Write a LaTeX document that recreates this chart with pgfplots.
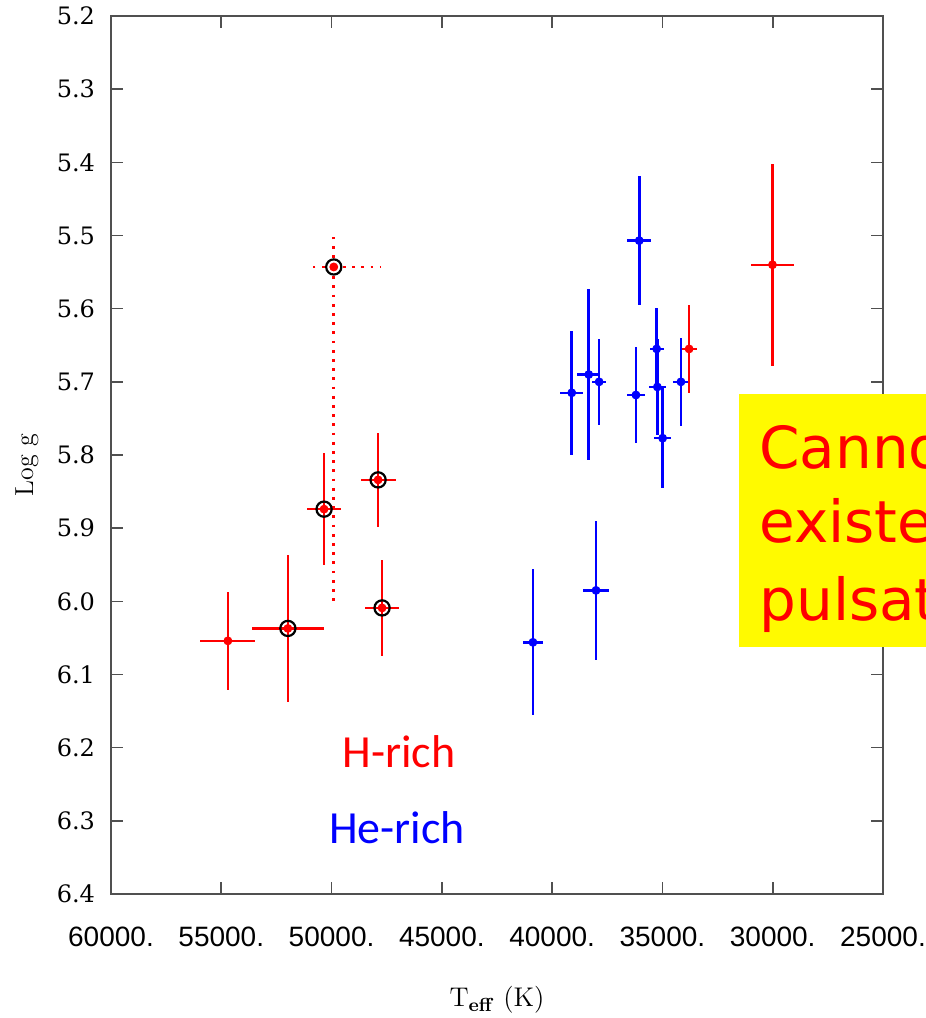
\documentclass[border=0pt]{standalone}
\usepackage{fontspec}
\usepackage{pgfplots}
\pgfplotsset{compat=1.18}
\newfontfamily\tickx{Liberation Sans}
\newfontfamily\ticky{DejaVu Serif}
\newfontfamily\calib{Carlito}
\newfontfamily\comic{DejaVu Sans}
\definecolor{axgray}{RGB}{80,80,80}
\definecolor{boxyellow}{RGB}{255,250,0}

\begin{document}
\begin{tikzpicture}
\useasboundingbox (-55.5pt,-62pt) rectangle (407.5pt,447pt);
\begin{axis}[
  at={(0pt,0pt)}, anchor=south west,
  scale only axis, width=386pt, height=439pt,
  x dir=reverse, y dir=reverse,
  xmin=25000, xmax=60000, ymin=5.2, ymax=6.4,
  scaled x ticks=false, scaled y ticks=false,
  xtick={25000,30000,35000,40000,45000,50000,55000,60000},
  xticklabels={25000.,30000.,35000.,40000.,45000.,50000.,55000.,60000.},
  ytick={5.2,5.3,5.4,5.5,5.6,5.7,5.8,5.9,6.0,6.1,6.2,6.3,6.4},
  yticklabels={5.2,5.3,5.4,5.5,5.6,5.7,5.8,5.9,6.0,6.1,6.2,6.3,6.4},
  tick align=inside, major tick length=6pt,
  axis line style={draw=axgray, line width=0.8pt},
  tick style={draw=axgray, line width=0.8pt},
  xticklabel style={font=\tickx\fontsize{14}{16}\selectfont, yshift=-13pt},
  yticklabel style={font=\ticky\fontsize{12}{14}\selectfont, xshift=-4.5pt},
  error bars/error mark=none,
]
% rings around selected H-rich stars
\addplot[only marks, mark=o, mark size=3.8pt, black, line width=1.1pt]
  coordinates {(51980,6.037) (50340,5.874) (49900,5.543) (47890,5.834) (47710,6.009)};
% H-rich, dotted error bars
\addplot[only marks, mark=*, mark size=2pt, red,
  error bars/.cd, x dir=both, x explicit, y dir=both, y explicit,
  error bar style={red, line width=1.4pt, dash pattern=on 1.4pt off 3.2pt}]
  coordinates {(49900,5.543) += (1150,0.457) -= (2100,0.043)};
% H-rich
\addplot[only marks, mark=*, mark size=2pt, red,
  error bars/.cd, x dir=both, x explicit, y dir=both, y explicit,
  error bar style={red, line width=1.2pt}]
  coordinates {
    (54700,6.054) +- (1250,0.067)
    (51980,6.037) +- (1630,0.101)
    (50340,5.874) +- (790,0.077)
    (47890,5.834) +- (790,0.064)
    (47710,6.009) +- (790,0.066)
    (33790,5.655) +- (340,0.060)
    (30010,5.540) +- (975,0.138)
  };
% He-rich
\addplot[only marks, mark=*, mark size=2pt, blue,
  error bars/.cd, x dir=both, x explicit, y dir=both, y explicit,
  error bar style={blue, line width=1.3pt}]
  coordinates {
    (40870,6.056) +- (440,0.100)
    (38010,5.985) +- (570,0.095)
    (39110,5.715) +- (530,0.085)
    (38340,5.690) +- (530,0.117)
    (37870,5.700) +- (325,0.059)
    (36200,5.718) +- (415,0.065)
    (36050,5.507) +- (540,0.088)
    (35260,5.655) +- (320,0.056)
    (35230,5.707) +- (400,0.066)
    (34990,5.777) +- (400,0.068)
    (34160,5.700) +- (340,0.060)
  };
\end{axis}
\node[rotate=90, font=\fontsize{13}{15}\selectfont] at (-42pt,214.5pt) {Log g};
\node[font=\fontsize{13.5}{15}\selectfont] at (193pt,-53pt) {T\textsubscript{\textbf{eff}} (K)};
\node[font=\calib\fontsize{23}{27}\selectfont, text=red] at (144pt,71pt) {H-rich};
\node[font=\calib\fontsize{23}{27}\selectfont, text=blue] at (143pt,33pt) {He-rich};
\begin{scope}
\clip (-55.5pt,-62pt) rectangle (407.5pt,447pt);
\fill[boxyellow] (314pt,123.5pt) rectangle (430pt,250pt);
\node[anchor=base west, inner sep=0pt, font=\comic\fontsize{29}{35}\selectfont, text=red] at (324pt,212.5pt) {Cannot explain};
\node[anchor=base west, inner sep=0pt, font=\comic\fontsize{29}{35}\selectfont, text=red] at (324pt,175.5pt) {existence of};
\node[anchor=base west, inner sep=0pt, font=\comic\fontsize{29}{35}\selectfont, text=red] at (324pt,136.5pt) {pulsations};
\end{scope}
\end{tikzpicture}
\end{document}
